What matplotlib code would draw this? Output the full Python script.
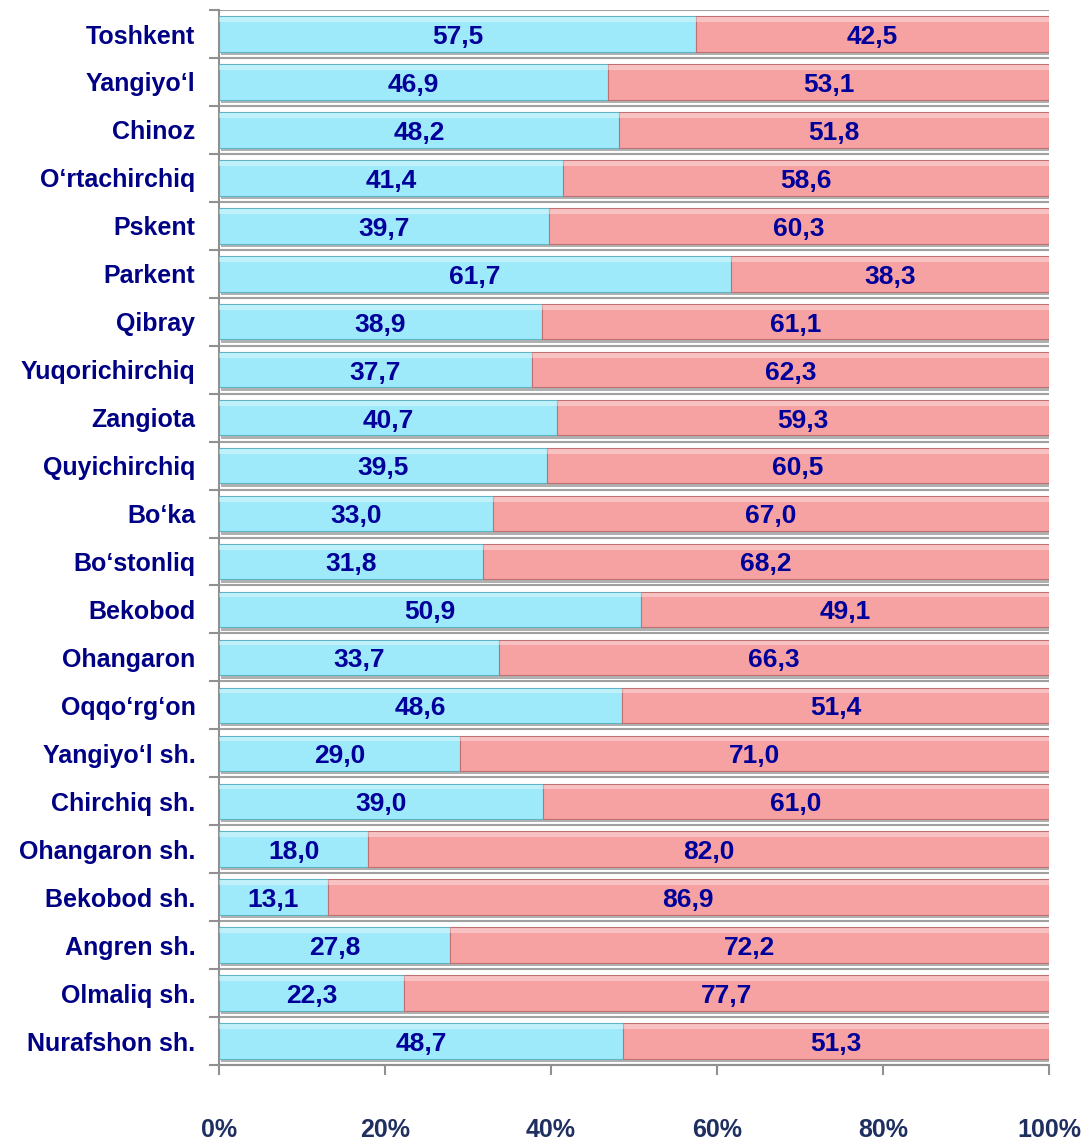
import numpy as np
import matplotlib.pyplot as plt

plt.rcParams['font.family'] = ['Liberation Sans', 'DejaVu Sans']

# tumanlar / shaharlar
districts = ["Toshkent", "Yangiyo‘l", "Chinoz", "O‘rtachirchiq", "Pskent", "Parkent",
             "Qibray", "Yuqorichirchiq", "Zangiota", "Quyichirchiq", "Bo‘ka",
             "Bo‘stonliq", "Bekobod", "Ohangaron", "Oqqo‘rg‘on", "Yangiyo‘l sh.",
             "Chirchiq sh.", "Ohangaron sh.", "Bekobod sh.", "Angren sh.",
             "Olmaliq sh.", "Nurafshon sh."]
share_blue = [57.5, 46.9, 48.2, 41.4, 39.7, 61.7, 38.9, 37.7, 40.7, 39.5, 33.0,
              31.8, 50.9, 33.7, 48.6, 29.0, 39.0, 18.0, 13.1, 27.8, 22.3, 48.7]
share_red = [42.5, 53.1, 51.8, 58.6, 60.3, 38.3, 61.1, 62.3, 59.3, 60.5, 67.0,
             68.2, 49.1, 66.3, 51.4, 71.0, 61.0, 82.0, 86.9, 72.2, 77.7, 51.3]
xticks = [0, 20, 40, 60, 80, 100]

blue_c = "#9feafa"
red_c = "#f7a2a2"
txt_c = "#00009a"
lab_c = "#000085"

fig = plt.figure(figsize=(10.81, 11.42), dpi=100)
ax = fig.add_axes([0.2026, 0.0674, 0.7678, 0.9238])

y = np.arange(len(districts))
h = 0.74

# soya
ax.barh(y + 0.07, 100, height=h, left=0.25, color="#b0b0b0", zorder=1)
ax.barh(y, share_blue, height=h, color=blue_c, edgecolor="#5fb5c8", lw=0.8, zorder=2)
ax.barh(y, share_red, left=share_blue, height=h, color=red_c, edgecolor="#c07070", lw=0.8, zorder=2)
# yorug' chiziq
ax.barh(y - h / 2 + 0.07, share_blue, height=0.1, color="white", alpha=0.35, lw=0, zorder=3)
ax.barh(y - h / 2 + 0.07, share_red, left=share_blue, height=0.1, color="white", alpha=0.35, lw=0, zorder=3)

for i in range(len(districts)):
    ax.text(share_blue[i] / 2, y[i] + 0.06, f"{share_blue[i]:.1f}".replace(".", ","),
            ha="center", va="center", fontsize=19, fontweight="bold", color=txt_c, zorder=4)
    ax.text(share_blue[i] + share_red[i] / 2, y[i] + 0.06, f"{share_red[i]:.1f}".replace(".", ","),
            ha="center", va="center", fontsize=19, fontweight="bold", color=txt_c, zorder=4)

ax.set_xlim(0, 100)
ax.set_ylim(len(districts) - 0.5, -0.5)
ax.set_xticks(xticks)
ax.set_xticklabels([f"{t}%" for t in xticks], fontsize=18, fontweight="bold", color="#1f2f60")
ax.set_yticks(y)
ax.set_yticklabels(districts, fontsize=18, fontweight="bold", color=lab_c)
ax.set_yticks(np.arange(-0.5, len(districts)), minor=True)
ax.tick_params(axis="y", which="major", length=0, pad=17)
ax.tick_params(axis="y", which="minor", length=7, color="#909090", width=1.5)
ax.tick_params(axis="x", length=7, color="#909090", width=1.5, pad=31)
ax.grid(axis="y", which="minor", color="#a0a0a0", lw=1.5, zorder=0)
ax.set_axisbelow(True)
for s in ["top", "right"]:
    ax.spines[s].set_visible(False)
ax.spines["left"].set_color("#909090")
ax.spines["left"].set_linewidth(1.5)
ax.spines["bottom"].set_color("#909090")
ax.spines["bottom"].set_linewidth(1.5)

fig.savefig("out.png", dpi=100)
